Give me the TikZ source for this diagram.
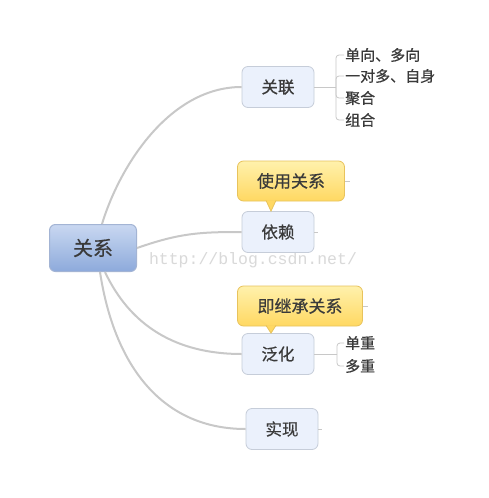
\documentclass[tikz,border=0pt]{standalone}
\usepackage{fontspec}
\setmainfont{Noto Sans CJK SC}[FakeBold=0.6]
\newfontfamily\wmfont{Liberation Mono}
\usepackage{tikz}

\definecolor{rootTop}{HTML}{C9D8F1}
\definecolor{rootBot}{HTML}{8DA9DB}
\definecolor{rootLine}{HTML}{A3B4D4}
\definecolor{topicFill}{HTML}{EBF1FC}
\definecolor{topicLine}{HTML}{C6CDD9}
\definecolor{noteTop}{HTML}{FFF1AC}
\definecolor{noteBot}{HTML}{FFD862}
\definecolor{noteLine}{HTML}{E8C35C}
\definecolor{branchGray}{HTML}{C8C8C8}
\definecolor{labelGray}{HTML}{3A3A3A}

\tikzset{
  root/.style={draw=rootLine, line width=1pt, top color=rootTop, bottom color=rootBot,
    rounded corners=6pt, minimum width=87pt, minimum height=47pt, text=labelGray,
    font=\fontsize{20}{20}\selectfont},
  topic/.style={draw=topicLine, line width=0.8pt, fill=topicFill, rounded corners=6pt,
    minimum width=72pt, minimum height=41pt, text=labelGray, font=\fontsize{16.5}{16.5}\selectfont},
  note/.style={draw=noteLine, line width=0.8pt, top color=noteTop, bottom color=noteBot,
    rounded corners=6pt, minimum height=40pt, text=labelGray, font=\fontsize{17}{17}\selectfont},
  leaf/.style={anchor=west, inner sep=0pt, text=labelGray, font=\fontsize{15}{15}\selectfont},
  branch/.style={draw=branchGray, line width=2pt},
  twig/.style={draw=branchGray, line width=0.8pt},
}

\begin{document}
\begin{tikzpicture}[x=1pt, y=-1pt]

\useasboundingbox[fill=white] (0,0) rectangle (489,498);

% watermark
\node (mark) at (253,260) [text=gray!30, font=\wmfont\fontsize{16.5}{16.5}\selectfont] {http://blog.csdn.net/};

% branches
\node (rel) at (93,248) [root, anchor=center] {关系};
\node (assoc) at (278,87) [topic] {关联};
\node (dep) at (278,232) [topic] {依赖};
\node (gen) at (278,354) [topic] {泛化};
\node (real) at (282,429) [topic] {实现};

\draw[branch] ([xshift=9pt]rel.north) .. controls (120,165) and (170,87) .. (assoc.west);
\draw[branch] (rel.east) .. controls (180,233) and (200,232) .. (dep.west);
\draw[branch] ([xshift=12pt]rel.south) .. controls (130,325) and (175,354) .. (gen.west);
\draw[branch] ([xshift=7pt]rel.south) .. controls (115,370) and (165,429) .. (real.west);

% notes
\node (use) at (291,181) [note, minimum width=107pt] {使用关系};
\node (inh) at (300,306) [note, minimum width=125pt] {即继承关系};

\coordinate (usetip) at ([xshift=-7pt]dep.north);
\coordinate (inhtip) at ([xshift=-7pt]gen.north);
\draw[draw=noteLine, line width=0.8pt, fill=noteBot] ([xshift=-5pt, yshift=1pt]usetip |- use.south) -- (usetip) -- ([xshift=5pt, yshift=1pt]usetip |- use.south);
\draw[draw=noteLine, line width=0.8pt, fill=noteBot] ([xshift=-5pt, yshift=1pt]inhtip |- inh.south) -- (inhtip) -- ([xshift=5pt, yshift=1pt]inhtip |- inh.south);

% leaves
\node (a1) at (345,55) [leaf] {单向、多向};
\node (a2) at (345,76) [leaf] {一对多、自身};
\node (a3) at (345,98) [leaf] {聚合};
\node (a4) at (345,120) [leaf] {组合};
\node (g1) at (345,343) [leaf] {单重};
\node (g2) at (345,366) [leaf] {多重};

\coordinate (abrk) at (336,87);
\coordinate (gbrk) at (337,354);
\draw[twig] (assoc.east) -- (abrk);
\draw[twig] (gen.east) -- (gbrk);
\foreach \l in {a1,a2,a3,a4}
  \draw[twig, rounded corners=3pt] (abrk) |- ([xshift=-1pt]\l.west);
\foreach \l in {g1,g2}
  \draw[twig, rounded corners=3pt] (gbrk) |- ([xshift=-1pt]\l.west);

% collapsed stubs
\coordinate (usestub) at ([xshift=5pt]use.east);
\coordinate (inhstub) at ([xshift=5pt]inh.east);
\coordinate (depstub) at ([xshift=4pt]dep.east);
\coordinate (realstub) at ([xshift=4pt]real.east);
\draw[twig] (use.east) -- (usestub);
\draw[twig] (inh.east) -- (inhstub);
\draw[twig] (dep.east) -- (depstub);
\draw[twig] (real.east) -- (realstub);
\end{tikzpicture}
\end{document}
